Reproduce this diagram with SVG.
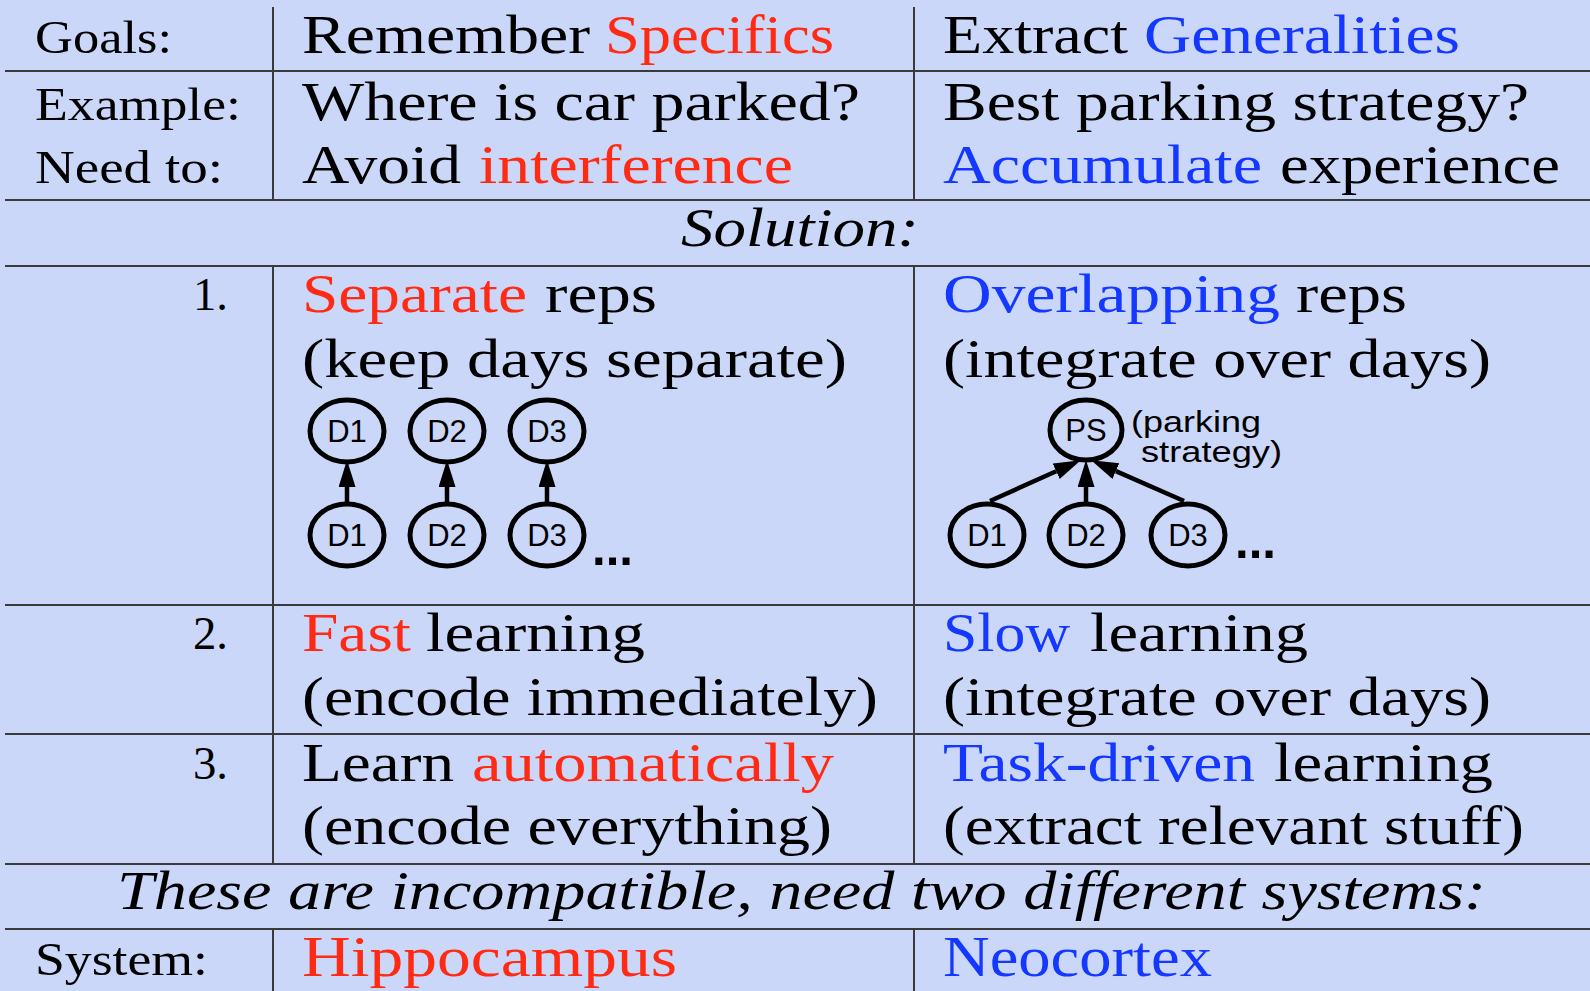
<svg xmlns="http://www.w3.org/2000/svg" width="1590" height="991" viewBox="0 0 1590 991">
<defs>
<style>
text{font-family:"Liberation Serif","Times New Roman",Tinos,Times,serif;font-size:54px;fill:#000}
.lab{font-size:47px}
.r{fill:#ff2a14}
.b{fill:#1438ff}
.it{font-style:italic}
.big{font-size:58px}
.sans{font-family:"Liberation Sans",Arial,sans-serif;font-size:31px}
.small{font-size:30px}
.dots{font-family:"Liberation Sans",Arial,sans-serif;font-size:50px;font-weight:bold}
.grid{stroke:#3a3a3a;stroke-width:2;fill:none}
.node{fill:none;stroke:#000;stroke-width:5}
.edge{stroke:#000;stroke-width:4.5;fill:none;marker-end:url(#ah)}
</style>
<marker id="ah" markerUnits="userSpaceOnUse" markerWidth="30" markerHeight="20" refX="0" refY="8.5" orient="auto">
<path d="M0,0 L27,8.5 L0,17 z" fill="#000"/>
</marker>
</defs>
<rect width="1590" height="991" fill="#cbd7f9"/>
<g id="grid">
<path class="grid" d="M5,71H1590M5,200H1590M5,266H1590M5,605H1590M5,734H1590M5,864H1590M5,929H1590"/>
<path class="grid" d="M273,7V200M914,7V200M273,266V864M914,266V864M273,929V991M914,929V991"/>
</g>
<g id="row-goals">
<text class="lab" x="35" y="53" textLength="137" lengthAdjust="spacingAndGlyphs">Goals:</text>
<text x="302" y="53" textLength="288" lengthAdjust="spacingAndGlyphs">Remember</text>
<text class="r" x="605" y="53" textLength="229" lengthAdjust="spacingAndGlyphs">Specifics</text>
<text x="943" y="53" textLength="185" lengthAdjust="spacingAndGlyphs">Extract</text>
<text class="b" x="1144" y="53" textLength="316" lengthAdjust="spacingAndGlyphs">Generalities</text>
</g>
<g id="row-example">
<text class="lab" x="35" y="120" textLength="206" lengthAdjust="spacingAndGlyphs">Example:</text>
<text x="302" y="120" textLength="558" lengthAdjust="spacingAndGlyphs">Where is car parked?</text>
<text x="943" y="120" textLength="586" lengthAdjust="spacingAndGlyphs">Best parking strategy?</text>
<text class="lab" x="35" y="183" textLength="188" lengthAdjust="spacingAndGlyphs">Need to:</text>
<text x="302" y="183" textLength="159" lengthAdjust="spacingAndGlyphs">Avoid</text>
<text class="r" x="479" y="183" textLength="314" lengthAdjust="spacingAndGlyphs">interference</text>
<text class="b" x="943" y="183" textLength="319" lengthAdjust="spacingAndGlyphs">Accumulate</text>
<text x="1280" y="183" textLength="280" lengthAdjust="spacingAndGlyphs">experience</text>
</g>
<g id="row-solution">
<text class="it" x="681" y="246" textLength="238" lengthAdjust="spacingAndGlyphs">Solution:</text>
</g>
<g id="row-1">
<text class="lab" x="193" y="310" textLength="35" lengthAdjust="spacingAndGlyphs">1.</text>
<text class="r" x="302" y="312" textLength="225" lengthAdjust="spacingAndGlyphs">Separate</text>
<text x="545" y="312" textLength="112" lengthAdjust="spacingAndGlyphs">reps</text>
<text x="302" y="377" textLength="545" lengthAdjust="spacingAndGlyphs">(keep days separate)</text>
<text class="b" x="943" y="312" textLength="337" lengthAdjust="spacingAndGlyphs">Overlapping</text>
<text x="1296" y="312" textLength="111" lengthAdjust="spacingAndGlyphs">reps</text>
<text x="943" y="377" textLength="548" lengthAdjust="spacingAndGlyphs">(integrate over days)</text>
</g>
<g id="sep-top-d1"><ellipse class="node" cx="347" cy="431" rx="37" ry="31"/><text class="sans" x="347" y="442" text-anchor="middle">D1</text></g>
<g id="sep-top-d2"><ellipse class="node" cx="447" cy="431" rx="37" ry="31"/><text class="sans" x="447" y="442" text-anchor="middle">D2</text></g>
<g id="sep-top-d3"><ellipse class="node" cx="547" cy="431" rx="37" ry="31"/><text class="sans" x="547" y="442" text-anchor="middle">D3</text></g>
<g id="sep-bot-d1"><ellipse class="node" cx="347" cy="535" rx="37" ry="31"/><text class="sans" x="347" y="546" text-anchor="middle">D1</text></g>
<g id="sep-bot-d2"><ellipse class="node" cx="447" cy="535" rx="37" ry="31"/><text class="sans" x="447" y="546" text-anchor="middle">D2</text></g>
<g id="sep-bot-d3"><ellipse class="node" cx="547" cy="535" rx="37" ry="31"/><text class="sans" x="547" y="546" text-anchor="middle">D3</text></g>
<text class="dots" x="592" y="565" textLength="41" lengthAdjust="spacingAndGlyphs">...</text>
<g id="ovl-ps"><ellipse class="node" cx="1086" cy="430" rx="36" ry="30"/><text class="sans" x="1086" y="441" text-anchor="middle">PS</text></g>
<text class="sans small" x="1131" y="432" textLength="130" lengthAdjust="spacingAndGlyphs">(parking</text>
<text class="sans small" x="1141" y="462" textLength="141" lengthAdjust="spacingAndGlyphs">strategy)</text>
<g id="ovl-d1"><ellipse class="node" cx="987" cy="535" rx="37" ry="31"/><text class="sans" x="987" y="546" text-anchor="middle">D1</text></g>
<g id="ovl-d2"><ellipse class="node" cx="1086" cy="535" rx="37" ry="31"/><text class="sans" x="1086" y="546" text-anchor="middle">D2</text></g>
<g id="ovl-d3"><ellipse class="node" cx="1188" cy="535" rx="37" ry="31"/><text class="sans" x="1188" y="546" text-anchor="middle">D3</text></g>
<text class="dots" x="1235" y="558" textLength="41" lengthAdjust="spacingAndGlyphs">...</text>
<g id="connectors">
<path class="edge" d="M347,503V487"/>
<path class="edge" d="M447,503V487"/>
<path class="edge" d="M547,503V487"/>
<path class="edge" d="M1086,503V487"/>
<path class="edge" d="M990,501L1056.2,471.3"/>
<path class="edge" d="M1184,501L1115.9,471.1"/>
</g>
<g id="row-2">
<text class="lab" x="193" y="649" textLength="35" lengthAdjust="spacingAndGlyphs">2.</text>
<text class="r" x="302" y="651" textLength="109" lengthAdjust="spacingAndGlyphs">Fast</text>
<text x="426" y="651" textLength="219" lengthAdjust="spacingAndGlyphs">learning</text>
<text x="302" y="715" textLength="576" lengthAdjust="spacingAndGlyphs">(encode immediately)</text>
<text class="b" x="943" y="651" textLength="127" lengthAdjust="spacingAndGlyphs">Slow</text>
<text x="1090" y="651" textLength="218" lengthAdjust="spacingAndGlyphs">learning</text>
<text x="943" y="715" textLength="548" lengthAdjust="spacingAndGlyphs">(integrate over days)</text>
</g>
<g id="row-3">
<text class="lab" x="193" y="779" textLength="35" lengthAdjust="spacingAndGlyphs">3.</text>
<text x="302" y="781" textLength="152" lengthAdjust="spacingAndGlyphs">Learn</text>
<text class="r" x="472" y="781" textLength="362" lengthAdjust="spacingAndGlyphs">automatically</text>
<text x="302" y="844" textLength="530" lengthAdjust="spacingAndGlyphs">(encode everything)</text>
<text class="b" x="943" y="781" textLength="312" lengthAdjust="spacingAndGlyphs">Task-driven</text>
<text x="1274" y="781" textLength="219" lengthAdjust="spacingAndGlyphs">learning</text>
<text x="943" y="844" textLength="581" lengthAdjust="spacingAndGlyphs">(extract relevant stuff)</text>
</g>
<g id="row-incompatible">
<text class="it" x="117" y="909" textLength="1369" lengthAdjust="spacingAndGlyphs">These are incompatible, need two different systems:</text>
</g>
<g id="row-system">
<text class="lab" x="35" y="975" textLength="173" lengthAdjust="spacingAndGlyphs">System:</text>
<text class="r big" x="302" y="976" textLength="375" lengthAdjust="spacingAndGlyphs">Hippocampus</text>
<text class="b big" x="943" y="976" textLength="269" lengthAdjust="spacingAndGlyphs">Neocortex</text>
</g>
</svg>
